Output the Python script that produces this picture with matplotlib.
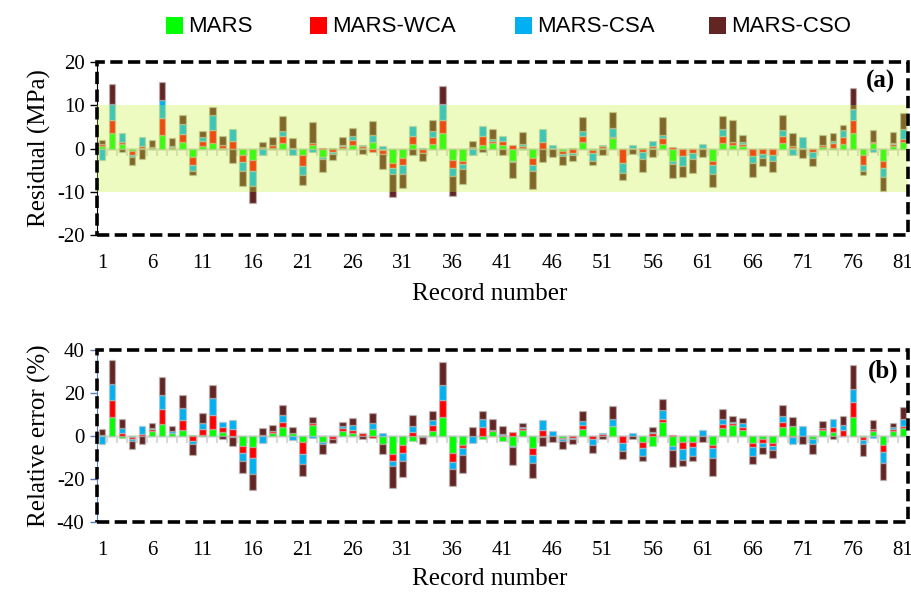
import numpy as np
import matplotlib
matplotlib.use("Agg")
import matplotlib.pyplot as plt
from matplotlib.patches import Rectangle
from matplotlib import font_manager

plt.rcParams['axes.unicode_minus'] = False
plt.rcParams['font.family'] = ['Liberation Serif', 'DejaVu Serif']

records = np.arange(1, 82)
series_names = ["MARS", "MARS-WCA", "MARS-CSA", "MARS-CSO"]
series_colors = ["#00FF00", "#FF0000", "#00B0F0", "#632523"]

# residuals (MPa) per record
res_mars = [0.6, 3.6, 1.0, -0.6, 0.1, 0.2, 3.2, 0.1, 1.5, -2.0,
            0.5, 1.3, 0.2, -0.1, -1.6, -2.6, 0.2, 0.2, 1.3, 0.1,
            -1.4, 0.7, -1.9, 0.1, 0.1, 0.7, 0.1, 1.6, -0.3, -3.3,
            -2.2, 1.1, -0.2, 1.1, 3.6, -2.6, -3.0, 0.1, 0.7, 1.3,
            0.9, -2.8, 0.1, -2.2, -0.2, 0.1, -0.5, 0.1, 1.6, -0.3,
            0.1, 2.4, -0.2, 0.1, 0.1, 0.1, 1.1, -3.0, -0.2, -0.2,
            0.1, -3.0, 1.3, 0.9, 0.5, -0.1, -0.1, -0.1, 1.3, 0.1,
            0.1, -0.1, 0.3, 0.1, 1.1, 3.6, -1.6, 1.3, -2.8, 0.5,
            1.6]
res_wca = [0.4, 3.1, 0.6, -0.8, 0.5, 0.1, 3.9, 0.3, 1.9, -1.8,
           1.3, 2.9, 0.5, 1.7, -1.6, -2.6, 0.1, 0.5, 1.5, 0.1,
           -2.6, 0.6, 0.1, -0.8, 0.5, 1.3, 0.5, -0.8, -0.9, -1.2,
           -1.7, 1.8, -0.8, 1.6, 2.9, -2.0, -0.5, 0.3, 2.2, 0.5,
           0.8, 0.7, 0.5, -1.7, 1.6, 0.1, -0.8, -1.1, 1.2, -0.8,
           0.5, 0.2, -3.2, 0.1, -0.8, 0.5, 1.3, 0.3, -1.6, -0.8,
           0.1, -0.8, 1.7, 0.6, 0.5, -1.6, -1.2, -1.5, 1.5, 0.5,
           0.1, -0.8, 0.5, 1.1, 1.6, 2.9, -2.3, 0.1, -1.6, 0.5,
           0.6]
res_csa = [-2.7, 3.6, 2.0, -0.6, 2.1, 0.1, 4.1, 0.1, 2.3, -1.3,
           0.9, 3.5, -0.2, 2.9, -1.9, -3.5, -1.6, 0.2, 1.3, -1.4,
           -2.1, -0.8, -0.5, -0.4, 0.1, 0.9, 0.1, 1.5, 0.6, -1.4,
           -2.1, 2.2, 0.1, 1.3, 3.9, -1.7, -1.3, -1.6, 2.2, 0.4,
           1.2, -0.3, 0.5, -1.4, 2.9, 0.7, -0.5, -0.5, 1.2, -1.9,
           0.1, 2.2, -2.2, 0.7, -1.7, 1.1, 0.8, -0.5, -2.2, -1.5,
           0.8, -2.1, 1.6, 0.1, 0.4, -1.7, -0.8, -1.3, 1.4, -1.6,
           2.5, -1.2, 0.1, 0.5, 1.6, 2.7, -1.2, -0.8, -2.1, 0.2,
           2.3]
res_cso = [0.9, 4.7, -0.9, -1.7, -2.5, 1.6, 4.1, 1.9, 2.1, -1.0,
           1.4, 1.9, 2.2, -3.2, -3.6, -3.9, 1.1, 1.7, 3.5, 2.2,
           -2.4, 4.8, -3.1, -1.4, 1.9, 1.9, -1.3, 3.2, -3.5, -5.3,
           -3.1, -1.5, -1.8, 2.6, 4.0, -4.7, -3.3, 1.3, -0.8, 2.3,
           -1.5, -3.7, 2.6, -4.0, -3.0, -1.9, -1.9, -1.2, 3.2, -0.8,
           -1.5, 3.6, -1.7, -1.2, -2.9, -2.0, 4.0, -3.3, -2.5, -3.1,
           -1.9, -3.1, 2.9, 4.9, 1.8, -3.1, -1.9, -2.6, 3.6, 3.0,
           -2.3, -1.9, 2.2, 1.8, 1.2, 4.7, -1.0, 2.9, -3.3, 2.6,
           3.7]

# relative errors (%) per record
rel_mars = [0.3, 8.9, -1.1, -0.6, 0.2, 2.5, 5.8, 1.2, 2.8, 0.3,
            0.3, 3.1, 2.0, -0.5, -4.6, -5.2, 0.2, 1.5, 4.0, 1.2,
            -2.6, 5.1, -2.6, 0.1, 2.5, 1.5, 0.1, 3.1, -3.7, -8.3,
            -4.2, -2.2, -0.3, 2.5, 8.9, -7.7, -4.2, 0.1, -1.5, 2.5,
            -2.2, -4.6, 2.8, -5.7, -0.3, 0.1, -1.1, 0.1, 3.1, 0.1,
            0.1, 4.6, 0.1, 0.1, -2.6, -4.6, 6.6, -4.6, -2.6, -2.6,
            0.1, -4.2, 3.5, 5.1, 2.8, -3.4, -1.5, -3.4, 4.0, 4.6,
            0.1, -1.5, 2.8, 2.0, 0.1, 8.9, -0.5, 2.5, -4.2, 2.5,
            3.5]
rel_wca = [0.3, 8.0, 1.2, -0.8, 0.9, 0.6, 6.9, 0.2, 4.6, -2.2,
           3.1, 6.6, 2.0, 3.1, -3.4, -5.1, 0.3, 0.9, 2.6, 0.3,
           -5.7, 0.8, 0.2, -1.5, 1.1, 1.2, 1.2, -1.1, 0.1, -3.5,
           -3.8, 2.0, 0.1, 2.6, 7.7, -4.2, -1.5, 0.1, 4.3, 0.1,
           0.5, 2.0, 0.8, -3.1, 2.8, 0.1, -0.5, -0.8, 2.0, -1.5,
           1.0, 0.1, -3.4, 0.1, -3.1, 1.2, 1.5, 0.3, -3.5, -2.6,
           0.1, -1.5, 2.3, 1.1, 1.2, -1.5, -1.8, -1.2, 2.6, -0.5,
           0.1, 0.1, 0.8, 2.3, 2.8, 6.9, -1.5, 0.6, -3.1, 0.6,
           1.1]
rel_csa = [-3.7, 7.4, 2.3, -1.1, 3.7, 0.5, 6.6, 0.8, 5.8, -1.5,
           2.8, 8.2, 2.6, 4.3, -3.8, -7.2, -3.1, 0.1, 3.1, -1.8,
           -4.6, -1.1, -1.1, 0.1, 1.1, 2.3, 0.1, 2.8, 1.5, -2.3,
           -3.8, 2.6, 0.1, 2.3, 6.9, -3.5, -3.1, -3.4, 3.4, 0.1,
           0.5, -0.6, 0.8, -3.8, 4.6, 2.0, -0.8, -0.8, 2.0, -2.6,
           0.5, 3.1, -3.8, 1.0, -3.8, 0.8, 3.8, -1.8, -4.9, -4.0,
           2.5, -4.6, 2.3, 0.1, 2.2, -4.3, -1.8, -1.8, 2.6, -3.1,
           4.3, -2.2, 0.1, 3.8, 2.3, 6.2, -1.9, -1.1, -5.4, 0.9,
           3.5]
rel_cso = [2.5, 11.1, 4.2, -3.5, -3.7, 2.3, 8.0, 2.6, 5.7, -5.1,
           4.3, 5.7, -1.5, -4.2, -5.4, -7.7, 3.1, 2.6, 4.6, 2.5,
           -5.8, 3.1, -4.6, -1.8, 2.0, 3.5, -1.5, 4.6, -4.6, -10.0,
           -7.2, 5.1, -3.4, 4.3, 10.8, -7.7, -8.2, 4.0, 4.0, 5.2,
           3.5, -8.2, 1.8, -6.9, -4.3, -2.6, -3.8, -2.3, 4.6, -3.8,
           -1.5, 6.2, -3.5, -1.2, -2.3, 2.0, 5.4, -8.0, -2.8, -2.6,
           -2.6, -8.2, 4.6, 3.1, 2.0, -3.7, -3.5, -3.8, 5.1, 4.3,
           -3.7, -4.6, 3.5, -1.5, 4.2, 10.8, -5.4, 4.3, -7.7, 2.2,
           5.4]


def pick_font(*names):
    for name in names:
        try:
            font_manager.findfont(name, fallback_to_default=False)
            return name
        except ValueError:
            continue
    return "DejaVu Sans"


legend_font = pick_font("Liberation Sans Narrow", "Liberation Sans")
legend_size = 18 if legend_font == "Liberation Sans Narrow" else 16


def stacked_bars(ax, series):
    # Excel style stacking: positives pile upward, negatives downward
    pos = np.zeros(len(records))
    neg = np.zeros(len(records))
    for vals, color in zip(series, series_colors):
        v = np.asarray(vals, dtype=float)
        bottom = np.where(v >= 0, pos, neg)
        ax.bar(records, v, bottom=bottom, width=0.68, color=color,
               edgecolor=(0.75, 0.75, 0.75, 0.55), linewidth=1.0,
               joinstyle="round", zorder=2)
        pos += np.clip(v, 0, None)
        neg += np.clip(v, None, 0)


def style_panel(ax, lim, step, spine_color):
    ax.set_xlim(0.5, 81.5)
    ax.set_ylim(-lim, lim)
    ax.set_yticks(np.arange(-lim, lim + 1, step))
    ax.tick_params(axis="y", labelsize=15, direction="out", length=5,
                   color=spine_color, width=1, pad=4)
    for s in ("top", "right"):
        ax.spines[s].set_visible(False)
    ax.spines["left"].set_color(spine_color)
    # category axis sits on the zero line
    ax.spines["bottom"].set_position(("data", 0))
    ax.spines["bottom"].set_color("#D9D9D9")
    ax.spines["bottom"].set_linewidth(1.8)
    ax.spines["bottom"].set_zorder(1)
    ax.set_xticks(np.arange(0.5, 82, 1))
    ax.tick_params(axis="x", length=5, width=1.5, color="#D9D9D9",
                   labelbottom=False)
    lab = ax.secondary_xaxis("bottom")
    lab.set_xticks(records[::5])
    lab.tick_params(length=0, labelsize=15, pad=14)
    lab.spines["bottom"].set_visible(False)
    ax.add_patch(Rectangle((0, 0), 1, 1, transform=ax.transAxes, fill=False,
                           edgecolor="black", linewidth=2.6,
                           linestyle=(0, (3.4, 1.5)), clip_on=False, zorder=6))


fig = plt.figure(figsize=(9.12, 5.92), dpi=100)
ax_a = fig.add_axes([97 / 912, 1 - 235 / 592, 811 / 912, 173 / 592])
ax_b = fig.add_axes([97 / 912, 1 - 522 / 592, 811 / 912, 172 / 592])

stacked_bars(ax_a, [res_mars, res_wca, res_csa, res_cso])
ax_a.axhspan(-10, 10, facecolor=(200 / 255, 245 / 255, 52 / 255),
             alpha=0.31, linewidth=0, zorder=3)
style_panel(ax_a, 20, 10, "black")
ax_a.set_ylabel("Residual (MPa)", fontsize=18, labelpad=4)
ax_a.text(0.966, 0.885, "(a)", transform=ax_a.transAxes, ha="center",
          va="center", fontsize=18, fontweight="bold", zorder=7)

stacked_bars(ax_b, [rel_mars, rel_wca, rel_csa, rel_cso])
style_panel(ax_b, 40, 20, "#5B7DB8")
ax_b.set_ylabel("Relative error (%)", fontsize=18, labelpad=4)
ax_b.text(0.97, 0.875, "(b)", transform=ax_b.transAxes, ha="center",
          va="center", fontsize=18, fontweight="bold", zorder=7)

for y in (294, 579):
    fig.text(490 / 912, 1 - y / 592, "Record number", ha="center",
             va="center", fontsize=18)

# legend row across the top
for name, color, x in zip(series_names, series_colors, [166, 310, 515, 709]):
    fig.add_artist(Rectangle((x / 912, 1 - 34 / 592), 17 / 912, 17 / 592,
                             transform=fig.transFigure, facecolor=color,
                             edgecolor="none"))
    fig.text((x + 22) / 912, 1 - 26 / 592, name, ha="left", va="center",
             fontsize=legend_size, family=[legend_font, "DejaVu Sans"])

fig.savefig("out.png", dpi=100)
